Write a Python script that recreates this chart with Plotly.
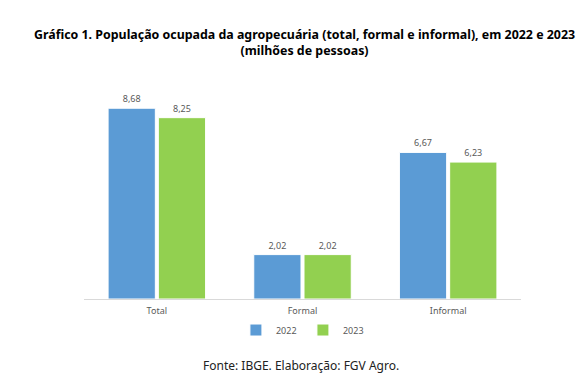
import plotly.graph_objects as go

categories = ["Total", "Formal", "Informal"]
values_2022 = [8.68, 2.02, 6.67]
values_2023 = [8.25, 2.02, 6.23]
series_names = ["2022", "2023"]

def fmt(v):
    return f"{v:.2f}".replace(".", ",")

blue = "#5B9BD5"
green = "#92D050"
lbl = "#595959"
FONT = "Noto Sans"

fig = go.Figure()
for name, vals, col in [(series_names[0], values_2022, blue), (series_names[1], values_2023, green)]:
    fig.add_trace(go.Bar(
        x=categories, y=vals, name=name,
        marker=dict(color=col, line=dict(color="white", width=1)),
        text=[fmt(v) for v in vals], textposition="outside",
        textfont=dict(family=FONT, size=9, color=lbl),
        cliponaxis=False,
    ))

fig.update_layout(
    width=587, height=390,
    margin=dict(l=84, r=66, t=88, b=91),
    paper_bgcolor="white", plot_bgcolor="white",
    barmode="group", bargap=0.31, bargroupgap=0.06,
    showlegend=True,
    legend=dict(orientation="h", x=0.501, xanchor="center", y=-0.147, yanchor="middle",
                font=dict(family=FONT, size=9, color=lbl), itemwidth=30,
                entrywidth=22, entrywidthmode="pixels",
                tracegroupgap=0),
    xaxis=dict(showline=True, linecolor="#D9D9D9", linewidth=1, ticks="",
               ticklabelstandoff=3,
               tickfont=dict(family=FONT, size=9, color=lbl), showgrid=False),
    yaxis=dict(range=[0, 9.6], visible=False, showgrid=False, zeroline=False),
    annotations=[
        dict(text="<b>Gráfico 1. População ocupada da agropecuária (total, formal e informal), em 2022 e 2023</b><br><b>(milhões de pessoas)</b>",
             xref="paper", yref="paper", x=(304-84)/437, y=(299-42.5)/211, xanchor="center", yanchor="middle",
             showarrow=False, font=dict(family=FONT, size=12.4, color="black"), align="center"),
        dict(text="Fonte: IBGE. Elaboração: FGV Agro.", xref="paper", yref="paper",
             x=(301-84)/437, y=-(365-299)/211, xanchor="center", yanchor="middle",
             showarrow=False, font=dict(family=FONT, size=12, color="#222222")),
    ],
)

fig.write_html("out.html", config={"displayModeBar": False},
               post_script="document.body.style.margin='0';")
